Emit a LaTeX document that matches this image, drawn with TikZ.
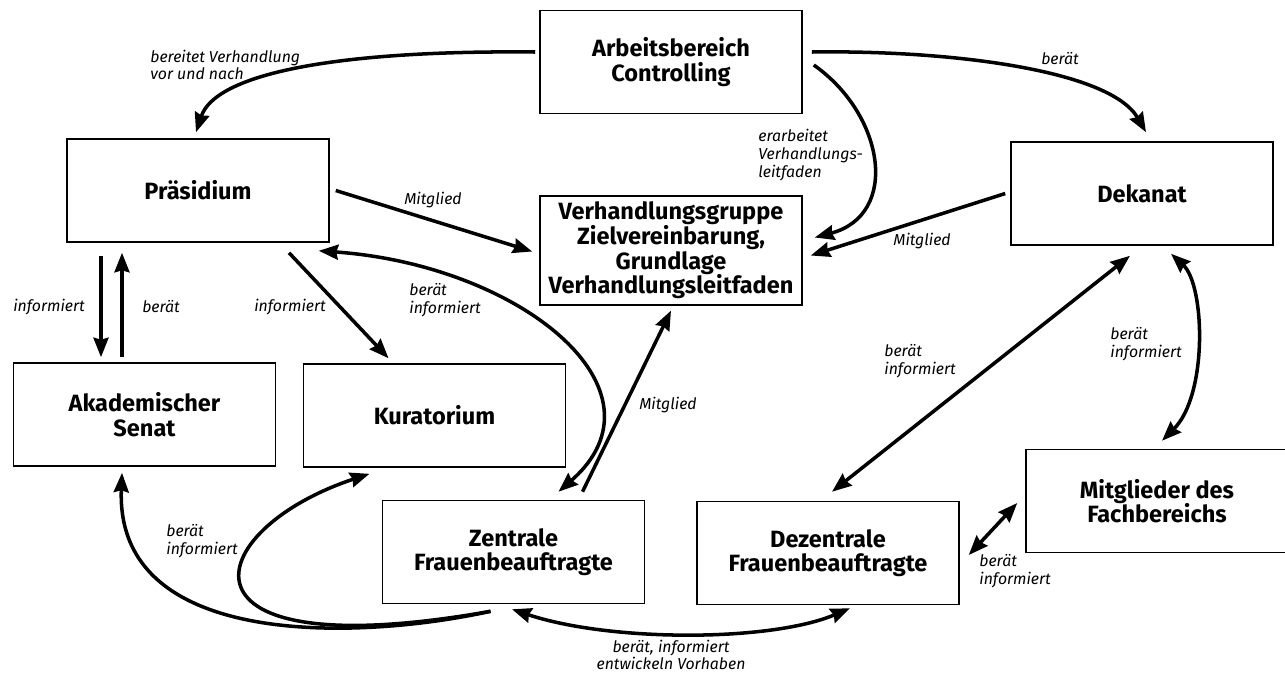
\documentclass[tikz,border=0pt]{standalone}
\usepackage{fontspec}
\setmainfont{Fira Sans}
\usetikzlibrary{arrows.meta,calc}

\begin{document}
\begin{tikzpicture}[x=0.02cm,y=-0.02cm,
    box/.style={draw,line width=0.9pt,minimum width=5.24cm,minimum height=2.06cm,
      align=center,font=\bfseries\fontsize{13.4}{14}\selectfont},
    lbl/.style={align=left,inner sep=0pt,font=\itshape\fontsize{9}{10}\selectfont},
    tip/.tip={Stealth[length=3.9mm,width=3mm,inset=0.4mm]},
    con/.style={line width=2pt,-tip},
    both/.style={line width=2pt,tip-tip}]
        \useasboundingbox (0,0) rectangle (1285,674);
        \node[box] (ctrl) at (671,62) {Arbeitsbereich\\Controlling};
        \node[box] (praes) at (198,190.5) {Präsidium};
        \node[box] (verh) at (671,250.5) {Verhandlungsgruppe\\Zielvereinbarung,\\Grundlage\\Verhandlungsleitfaden};
        \node[box] (dekan) at (1142,193.5) {Dekanat};
        \node[box] (senat) at (144.5,414.5) {Akademischer\\Senat};
        \node[box] (kurat) at (434.5,415.5) {Kuratorium};
        \node[box] (zfb) at (513.5,552) {Zentrale\\Frauenbeauftragte};
        \node[box] (dfb) at (828,553) {Dezentrale\\Frauenbeauftragte};
        \node[box] (mitgl) at (1157,501) {Mitglieder des\\Fachbereichs};
        \draw[con] ($(ctrl.west)+(-4,-10)$) .. controls (330,50) and (215,75) .. ($(praes.north)+(-2,-6)$);
        \draw[con] ($(ctrl.east)+(9,-10)$) .. controls (950,50) and (1110,70) .. ($(dekan.north)+(4,-9)$);
        \draw[con] ($(ctrl.east)+(11,3)$) .. controls (885,115) and (900,215) .. ($(verh.east)+(12,-13)$);
        \draw[con] ($(praes.east)+(6,0)$) -- ($(verh.west)+(-7,1)$);
        \draw[con] ($(dekan.west)+(-5,0)$) -- ($(verh.east)+(8,5)$);
        \draw[con] ($(praes.south)+(-97,13)$) -- ($(senat.north)+(-43.5,-5)$);
        \draw[con] ($(senat.north)+(-22.5,-5)$) -- ($(praes.south)+(-76,10)$);
        \draw[con] ($(praes.south)+(91,10)$) -- ($(kurat.north)+(-46,-5)$);
        \draw[both] ($(praes.south east)+(-11,8)$) .. controls (520,265) and (675,390) .. ($(zfb.north)+(45,-8)$);
        \draw[con] ($(zfb.north)+(69,-8)$) -- ($(verh.south)+(0,5)$);
        \draw[both] ($(dekan.south)+(-12,10)$) -- ($(dfb.north)+(4,-9)$);
        \draw[both] ($(dekan.south)+(29,8)$) .. controls (1205,285) and (1208,395) .. ($(mitgl.north)+(5,-8)$);
        \draw[both] ($(dfb.east)+(9,2)$) -- ($(mitgl.west)+(-8,2)$);
        \draw[con] ($(zfb.south)+(-23,7)$) .. controls (360,640) and (115,650) .. ($(senat.south)+(-22.5,6)$);
        \draw[con] ($(zfb.south)+(-23,7)$) .. controls (160,670) and (200,530) .. ($(kurat.south)+(-65,6)$);
        \draw[both] ($(zfb.south)+(-1.5,5)$) .. controls (610,642) and (770,642) .. ($(dfb.south)+(22,3)$);
        \node[lbl,anchor=west] (lprep) at (150,65) {bereitet Verhandlung\\vor und nach};
        \node[lbl] (lctrl) at (1060,59) {berät};
        \node[lbl,anchor=west] (lguide) at (758,155) {erarbeitet\\Verhandlungs-\\leitfaden};
        \node[lbl] (lmemp) at (433,200) {Mitglied};
        \node[lbl] (lmemd) at (922,241) {Mitglied};
        \node[lbl] (lsendown) at (49,307) {informiert};
        \node[lbl] (lsenup) at (161,307) {berät};
        \node[lbl] (lkurat) at (290,307) {informiert};
        \node[lbl,anchor=west] (lpzfb) at (409,300) {berät\\informiert};
        \node[lbl] (lmemz) at (668,405) {Mitglied};
        \node[lbl,anchor=west] (ldekdfb) at (884,361) {berät\\informiert};
        \node[lbl,anchor=west] (ldekmit) at (1110,344) {berät\\informiert};
        \node[lbl,anchor=west] (ldfbmit) at (979,571) {berät\\informiert};
        \node[lbl,anchor=west] (lzfbsen) at (166,541) {berät\\informiert};
        \node[lbl,align=center] (lzfbdfb) at (671,655) {berät, informiert\\entwickeln Vorhaben};
\end{tikzpicture}
\end{document}
